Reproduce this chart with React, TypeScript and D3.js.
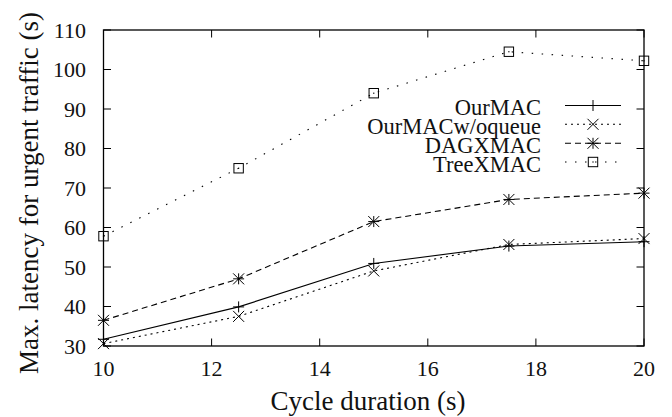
import React from "react";
import * as d3 from "d3";

const cycles = [10, 12.5, 15, 17.5, 20];
const ourMAC = [31.7, 39.9, 50.9, 55.3, 56.4];
const ourMACNoQueue = [30.6, 37.5, 49.0, 55.7, 57.2];
const dagXMAC = [36.5, 47.0, 61.5, 67.1, 68.7];
const treeXMAC = [57.8, 75.0, 94.0, 104.5, 102.2];
const xTicks = [10, 12, 14, 16, 18, 20];
const yTicks = [30, 40, 50, 60, 70, 80, 90, 100, 110];
const seriesNames = ["OurMAC", "OurMACw/oqueue", "DAGXMAC", "TreeXMAC"];

const W = 672, H = 417;
const L = 103.5, R = 644, T = 30, B = 346;
const FONT = '"Liberation Serif", "DejaVu Serif", serif';

type Marker = "plus" | "cross" | "star" | "square";
const styles: { dash: string | undefined; marker: Marker }[] = [
  { dash: undefined, marker: "plus" },
  { dash: "2,4", marker: "cross" },
  { dash: "6,4", marker: "star" },
  { dash: "1.5,8.5", marker: "square" },
];

function MarkerShape({ type, x, y }: { type: Marker; x: number; y: number }) {
  const s = 5.5;
  const plus = <path d={`M${x - s},${y}H${x + s}M${x},${y - s}V${y + s}`} />;
  const cross = (
    <path d={`M${x - s},${y - s}L${x + s},${y + s}M${x - s},${y + s}L${x + s},${y - s}`} />
  );
  if (type === "plus") return <g stroke="#000" strokeWidth={1}>{plus}</g>;
  if (type === "cross") return <g stroke="#000" strokeWidth={1}>{cross}</g>;
  if (type === "star")
    return (
      <g stroke="#000" strokeWidth={1}>
        {plus}
        {cross}
      </g>
    );
  const h = 4.7;
  return (
    <g stroke="#000" strokeWidth={1} fill="none">
      <rect x={x - h} y={y - h} width={2 * h} height={2 * h} />
      <rect x={x - 0.6} y={y - 0.6} width={1.2} height={1.2} fill="#000" stroke="none" />
    </g>
  );
}

export default function App() {
  const x = d3.scaleLinear().domain([10, 20]).range([L, R]);
  const y = d3.scaleLinear().domain([30, 110]).range([B, T]);
  const data = [ourMAC, ourMACNoQueue, dagXMAC, treeXMAC];
  const line = d3
    .line<number>()
    .x((_, i) => x(cycles[i]))
    .y((d) => y(d));
  const tl = 7.5;
  const legendRows = [105.5, 124.3, 143.3, 162];

  return (
    <svg
      width={W}
      height={H}
      style={{ position: "absolute", left: 0, top: 0, background: "#fff", fontFamily: FONT }}
    >
      <g stroke="#000" strokeWidth={1}>
        {xTicks.map((t) => (
          <g key={"x" + t}>
            <line x1={x(t)} x2={x(t)} y1={B} y2={B - tl} />
            <line x1={x(t)} x2={x(t)} y1={T} y2={T + tl} />
          </g>
        ))}
        {yTicks.map((t) => (
          <g key={"y" + t}>
            <line x1={L} x2={L + tl} y1={y(t)} y2={y(t)} />
            <line x1={R} x2={R - tl} y1={y(t)} y2={y(t)} />
          </g>
        ))}
      </g>
      {data.map((d, i) => (
        <g key={i}>
          <path
            d={line(d) || ""}
            fill="none"
            stroke="#000"
            strokeWidth={1.1}
            strokeDasharray={styles[i].dash}
          />
          {d.map((v, j) => (
            <MarkerShape key={j} type={styles[i].marker} x={x(cycles[j])} y={y(v)} />
          ))}
        </g>
      ))}
      <rect x={L} y={T} width={R - L} height={B - T} fill="none" stroke="#000" strokeWidth={1.3} />
      <g fontSize={22} fill="#111" style={{ fontFamily: FONT }}>
        {xTicks.map((t) => (
          <text key={"xl" + t} x={x(t)} y={375.5} textAnchor="middle">
            {t}
          </text>
        ))}
        {yTicks.map((t) => (
          <text key={"yl" + t} x={86} y={y(t) + 7.8} textAnchor="end">
            {t}
          </text>
        ))}
      </g>
      <text
        x={368}
        y={410}
        textAnchor="middle"
        fontSize={27}
        fill="#111"
        style={{ fontFamily: FONT }}
      >
        Cycle duration (s)
      </text>
      <text
        transform={`translate(38,193) rotate(-90)`}
        textAnchor="middle"
        fontSize={27}
        fill="#111"
        style={{ fontFamily: FONT }}
      >
        Max. latency for urgent traffic (s)
      </text>
      <g fontSize={22.5} fill="#111" style={{ fontFamily: FONT }}>
        {seriesNames.map((n, i) => (
          <g key={n}>
            <text x={541} y={legendRows[i] + 9.5} textAnchor="end">
              {n}
            </text>
            <line
              x1={565}
              x2={621}
              y1={legendRows[i]}
              y2={legendRows[i]}
              stroke="#000"
              strokeWidth={1.1}
              strokeDasharray={styles[i].dash}
            />
            <MarkerShape type={styles[i].marker} x={593} y={legendRows[i]} />
          </g>
        ))}
      </g>
    </svg>
  );
}
